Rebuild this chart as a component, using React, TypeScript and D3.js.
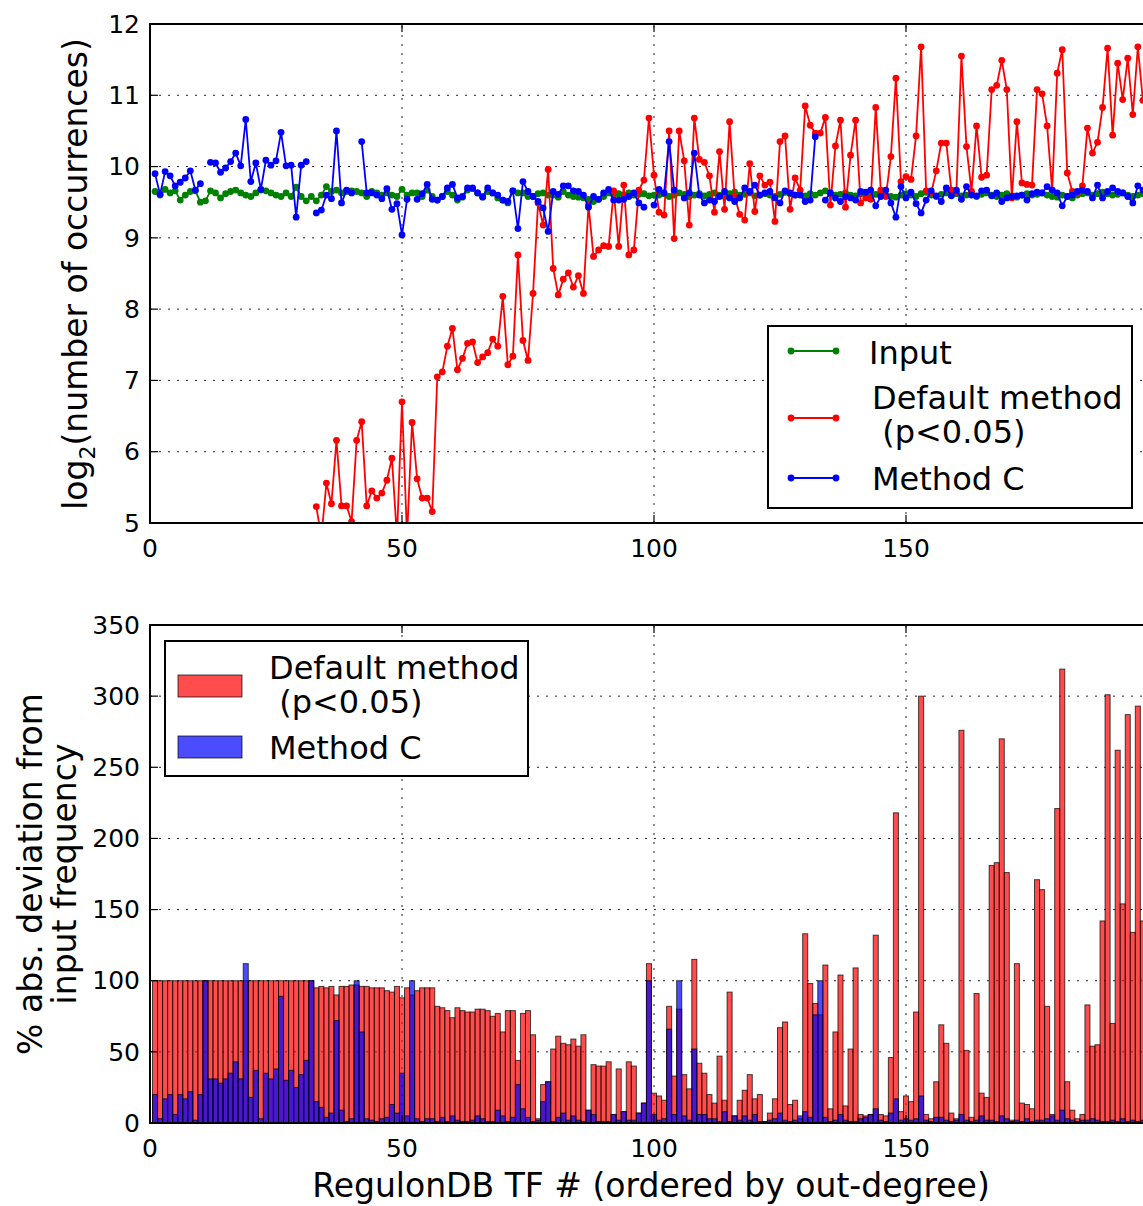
import React from 'react';
import * as d3 from 'd3';

// log2(number of occurrences), TF #1..197 (null = no occurrences, not drawn)
const inputLog2: (number | null)[] = [
  9.65, 9.60, 9.68, 9.63, 9.66, 9.53, 9.60, 9.65, 9.66, 9.50,
  9.52, 9.66, 9.63, 9.56, 9.62, 9.65, 9.67, 9.63, 9.60, 9.58,
  9.63, 9.67, 9.66, 9.63, 9.60, 9.58, 9.63, 9.58, 9.71, 9.58,
  9.52, 9.58, 9.52, 9.60, 9.72, 9.65, 9.67, 9.63, 9.65, 9.66,
  9.65, 9.63, 9.58, 9.65, 9.63, 9.60, 9.63, 9.60, 9.58, 9.68,
  9.60, 9.63, 9.63, 9.58, 9.67, 9.58, 9.53, 9.58, 9.65, 9.60,
  9.53, 9.57, 9.67, 9.69, 9.63, 9.58, 9.65, 9.63, 9.56, 9.53,
  9.49, 9.66, 9.63, 9.63, 9.58, 9.58, 9.62, 9.63, 9.60, 9.60,
  9.57, 9.65, 9.60, 9.58, 9.57, 9.56, 9.54, 9.51, 9.54, 9.58,
  9.63, 9.60, 9.62, 9.60, 9.63, 9.60, 9.61, 9.62, 9.59, 9.60,
  9.60, 9.62, 9.58, 9.60, 9.63, 9.61, 9.58, 9.60, 9.62, 9.59,
  9.61, 9.63, 9.60, 9.58, 9.62, 9.64, 9.60, 9.61, 9.63, 9.59,
  9.60, 9.62, 9.60, 9.58, 9.61, 9.64, 9.62, 9.60, 9.61, 9.59,
  9.62, 9.60, 9.63, 9.66, 9.62, 9.60, 9.61, 9.63, 9.60, 9.59,
  9.62, 9.60, 9.58, 9.61, 9.63, 9.60, 9.58, 9.57, 9.60, 9.62,
  9.60, 9.58, 9.62, 9.64, 9.60, 9.58, 9.61, 9.63, 9.60, 9.62,
  9.59, 9.60, 9.62, 9.58, 9.61, 9.63, 9.60, 9.58, 9.60, 9.62,
  9.59, 9.57, 9.60, 9.62, 9.60, 9.61, 9.63, 9.60, 9.58, 9.57,
  9.60, 9.58, 9.56, 9.60, 9.62, 9.63, 9.60, 9.62, 9.64, 9.62,
  9.60, 9.61, 9.63, 9.60, 9.58, 9.60, 9.62,
];

const defaultLog2: (number | null)[] = [
  null, null, null, null, null, null, null, null, null, null,
  null, null, null, null, null, null, null, null, null, null,
  null, null, null, null, null, null, null, null, null, null,
  null, null, 5.23, 4.80, 5.56, 5.27, 6.16, 5.24, 5.24, 5.02,
  6.16, 6.42, 5.24, 5.45, 5.35, 5.42, 5.60, 5.91, 4.80, 6.70,
  4.80, 6.41, 5.62, 5.35, 5.35, 5.16, 7.05, 7.12, 7.48, 7.73,
  7.15, 7.31, 7.52, 7.54, 7.25, 7.33, 7.39, 7.58, 7.48, 8.18,
  7.22, 7.34, 8.76, 7.56, 7.28, 8.22, 9.49, 9.18, 9.96, 8.57,
  8.20, 8.42, 8.51, 8.31, 8.47, 8.22, 9.46, 8.74, 8.83, 8.89,
  8.88, 9.66, 8.88, 9.74, 8.76, 8.83, 9.67, 9.81, 10.68, 9.88,
  9.36, 9.32, 10.50, 8.99, 10.50, 10.08, 9.18, 10.68, 10.10, 10.06,
  9.87, 9.36, 10.21, 9.40, 10.63, 9.58, 9.33, 9.25, 10.04, 9.37,
  9.87, 9.74, 9.78, 9.23, 10.35, 10.43, 9.40, 9.84, 9.67, 10.85,
  10.58, 10.47, 10.47, 10.69, 9.46, 10.29, 10.65, 9.43, 10.16, 10.65,
  9.49, 9.56, 9.54, 10.83, 9.67, 9.58, 10.14, 11.24, 9.79, 9.86,
  9.82, 10.43, 11.68, 9.66, 9.63, 9.94, 10.33, 10.33, 9.67, 9.65,
  11.55, 10.28, 9.65, 10.57, 9.85, 9.88, 11.08, 11.14, 11.49, 11.08,
  9.56, 10.63, 9.77, 9.75, 9.74, 11.08, 11.02, 10.57, 9.67, 11.31,
  11.64, 9.91, 9.65, 9.63, 9.73, 10.54, 10.19, 10.34, 10.83, 11.66,
  10.44, 11.45, 10.94, 11.52, 10.73, 11.68, 10.93,
];

const methodCLog2: (number | null)[] = [
  9.90, 9.61, 9.93, 9.87, 9.73, 9.78, 9.84, 9.94, 9.67, 9.76,
  null, 10.06, 10.05, 9.92, 9.98, 10.07, 10.19, 10.01, 10.66, 9.79,
  10.05, 9.68, 10.09, 10.02, 10.08, 10.48, 10.01, 10.02, 9.29, 10.02,
  10.07, null, 9.35, 9.39, 9.60, 9.55, 10.50, 9.49, 9.67, 9.63,
  null, 10.35, 9.63, 9.63, 9.60, 9.55, 9.69, 9.40, 9.48, 9.04,
  9.54, null, 9.54, 9.62, 9.75, 9.54, 9.53, 9.58, 9.70, 9.75,
  9.56, 9.58, 9.70, 9.70, 9.63, 9.57, 9.70, 9.63, 9.60, 9.53,
  9.51, 9.66, 9.13, 9.79, 9.65, 9.58, 9.51, 9.42, 9.09, 9.65,
  9.61, 9.73, 9.73, 9.66, 9.65, 9.60, 9.43, 9.58, 9.54, 9.63,
  9.68, 9.53, 9.53, 9.54, 9.58, 9.63, 9.49, 9.43, null, 9.46,
  9.68, 9.63, 10.35, 9.67, null, 9.56, 9.63, 10.19, 9.60, 9.49,
  9.53, 9.51, 9.58, 9.65, 9.56, 9.51, 9.56, 9.70, 9.65, 9.74,
  9.60, 9.63, 9.65, 9.56, 9.49, 9.66, 9.63, 9.60, 9.60, 9.51,
  9.53, 10.42, null, 9.53, 9.63, 9.56, 9.51, 9.58, 9.56, 9.53,
  9.65, 9.64, 9.67, 9.45, 9.58, 9.67, 9.49, 9.29, 9.72, 9.56,
  9.64, 9.48, 9.35, 9.53, 9.66, 9.59, 9.51, 9.70, 9.59, 9.67,
  9.54, 9.72, 9.60, 9.59, 9.66, 9.67, 9.59, 9.63, 9.51, 9.56,
  9.58, 9.59, 9.60, 9.53, 9.62, 9.64, 9.63, 9.72, 9.67, 9.63,
  9.45, 9.58, 9.60, 9.65, 9.67, 9.65, 9.56, 9.74, 9.56, 9.65,
  9.70, 9.65, 9.63, 9.58, 9.49, 9.73, 9.67,
];

// % abs. deviation from input frequency
const defaultDev: number[] = [
  100, 100, 100, 100, 100, 100, 100, 100, 100, 100,
  100, 100, 100, 100, 100, 100, 100, 100, 100, 100,
  100, 100, 100, 100, 100, 100, 100, 100, 100, 100,
  100, 100, 95, 96, 95, 96, 90, 96, 96, 97,
  97, 96, 96, 95, 95, 95, 93, 92, 96, 88,
  95, 90, 93, 95, 95, 95, 82, 81, 79, 74,
  81, 79, 78, 78, 80, 80, 79, 75, 77, 64,
  79, 79, 44, 77, 79, 62, 3, 27, 29, 52,
  61, 56, 55, 59, 54, 62, 9, 41, 40, 40,
  43, 6, 38, 8, 43, 40, 7, 14, 112, 21,
  19, 16, 82, 33, 80, 34, 24, 115, 42, 35,
  20, 14, 47, 16, 92, 5, 16, 23, 34, 17,
  20, 1, 7, 17, 67, 71, 13, 16, 3, 133,
  98, 84, 76, 111, 10, 64, 104, 12, 52, 109,
  6, 5, 6, 132, 6, 5, 46, 218, 8, 19,
  15, 78, 300, 6, 3, 29, 69, 56, 7, 3,
  276, 51, 4, 91, 21, 18, 181, 183, 270, 176,
  2, 112, 14, 13, 10, 171, 164, 82, 6, 221,
  319, 29, 9, 3, 6, 83, 54, 55, 142, 301,
  70, 262, 154, 287, 134, 293, 142,
];

const methodCDev: number[] = [
  20, 3, 17, 20, 6, 20, 17, 22, 2, 20,
  100, 31, 31, 28, 31, 35, 43, 31, 112, 18,
  37, 3, 35, 31, 38, 89, 30, 37, 25, 34,
  44, 100, 15, 11, 4, 7, 72, 9, 1, 3,
  100, 64, 3, 2, 1, 3, 4, 13, 7, 35,
  5, 100, 3, 1, 3, 3, 1, 4, 1, 5,
  2, 1, 1, 2, 5, 3, 1, 1, 9, 5,
  1, 4, 27, 10, 4, 1, 2, 15, 29, 1,
  4, 7, 2, 5, 2, 1, 9, 6, 1, 1,
  1, 6, 2, 8, 2, 2, 7, 14, 100, 6,
  2, 3, 66, 6, 100, 5, 2, 52, 6, 6,
  3, 3, 1, 8, 1, 5, 2, 5, 2, 6,
  1, 1, 2, 3, 7, 2, 1, 2, 5, 8,
  4, 76, 100, 4, 1, 2, 6, 2, 1, 1,
  3, 4, 6, 10, 2, 1, 7, 17, 2, 3,
  2, 3, 19, 2, 1, 4, 4, 2, 1, 2,
  6, 2, 1, 2, 5, 2, 2, 1, 5, 3,
  1, 2, 1, 3, 1, 2, 2, 3, 5, 2,
  9, 3, 2, 1, 2, 2, 3, 2, 1, 1,
  2, 1, 3, 1, 2, 1, 2,
];

const topYTicks = [5, 6, 7, 8, 9, 10, 11, 12];
const botYTicks = [0, 50, 100, 150, 200, 250, 300, 350];
const xTicks = [0, 50, 100, 150, 200];
// the 200 label falls outside the visible figure
const xTickLabels = [0, 50, 100, 150];

const FONT = '"DejaVu Sans", sans-serif';

type Pt = { i: number; v: number | null };

function Series({ data, color, x, y, clip }: { data: (number | null)[]; color: string; x: any; y: any; clip: string }) {
  const pts: Pt[] = data.map((v, k) => ({ i: k + 1, v }));
  const line = d3.line<Pt>().defined(d => d.v != null).x(d => x(d.i)).y(d => y(d.v as number));
  return (
    <g clipPath={`url(#${clip})`}>
      <path d={line(pts) || ''} fill="none" stroke={color} strokeWidth={1.8} />
      {pts.filter(d => d.v != null).map(d => (
        <circle key={d.i} cx={x(d.i)} cy={y(d.v as number)} r={3.4} fill={color} />
      ))}
    </g>
  );
}

export default function App() {
  const W = 1143, H = 1206;
  const x = d3.scaleLinear().domain([0, 200]).range([150, 1158]);
  const yTop = d3.scaleLinear().domain([5, 12]).range([523, 24]);
  const yBot = d3.scaleLinear().domain([0, 350]).range([1123, 625]);
  const bw = x(1) - x(0);

  const grid = (y: any, ticks: number[]) => (
    <g stroke="#000" strokeWidth={1} strokeDasharray="2,7" opacity={0.85}>
      {ticks.map(t => <line key={'h' + t} x1={x(0)} x2={x(200)} y1={y(t)} y2={y(t)} />)}
      {xTicks.map(t => <line key={'v' + t} x1={x(t)} x2={x(t)} y1={y.range()[0]} y2={y.range()[1]} />)}
    </g>
  );

  const frame = (y: any, ticks: number[]) => {
    const [y0, y1] = y.range();
    return (
      <g>
        <rect x={x(0)} y={y1} width={x(200) - x(0)} height={y0 - y1} fill="none" stroke="#000" strokeWidth={2} />
        {ticks.map(t => (
          <g key={t}>
            <line x1={x(0)} x2={x(0) + 8} y1={y(t)} y2={y(t)} stroke="#000" strokeWidth={1.2} />
            <text x={140} y={y(t)} dy="0.35em" textAnchor="end" fontSize={25} fontFamily={FONT}>{t}</text>
          </g>
        ))}
        {xTicks.map(t => (
          <g key={'x' + t}>
            <line x1={x(t)} x2={x(t)} y1={y0} y2={y0 - 8} stroke="#000" strokeWidth={1.2} />
            <line x1={x(t)} x2={x(t)} y1={y1} y2={y1 + 8} stroke="#000" strokeWidth={1.2} />
          </g>
        ))}
        {xTickLabels.map(t => (
          <text key={'l' + t} x={x(t)} y={y0 + 34} textAnchor="middle" fontSize={25} fontFamily={FONT}>{t}</text>
        ))}
      </g>
    );
  };

  const legendLine = (cy: number, color: string) => (
    <g>
      <line x1={791} x2={836} y1={cy} y2={cy} stroke={color} strokeWidth={1.8} />
      <circle cx={791} cy={cy} r={3.4} fill={color} />
      <circle cx={836} cy={cy} r={3.4} fill={color} />
    </g>
  );

  return (
    <svg width={W} height={H} style={{ position: 'absolute', left: 0, top: 0, background: '#fff' }} fontFamily={FONT}>
      <defs>
        <clipPath id="clipTop"><rect x={x(0)} y={24} width={x(200) - x(0)} height={499} /></clipPath>
        <clipPath id="clipBot"><rect x={x(0)} y={625} width={x(200) - x(0)} height={498} /></clipPath>
      </defs>
      <rect width={W} height={H} fill="#fff" />

      {/* top panel */}
      {grid(yTop, topYTicks)}
      <Series data={inputLog2} color="#008000" x={x} y={yTop} clip="clipTop" />
      <Series data={defaultLog2} color="#ff0000" x={x} y={yTop} clip="clipTop" />
      <Series data={methodCLog2} color="#0000ff" x={x} y={yTop} clip="clipTop" />
      {frame(yTop, topYTicks)}
      <text transform="translate(87,274) rotate(-90)" textAnchor="middle" fontSize={33}>
        log<tspan fontSize={22} dy={8}>2</tspan><tspan dy={-8}>(number of occurrences)</tspan>
      </text>
      <g>
        <rect x={768} y={326} width={364} height={182} fill="#fff" stroke="#000" strokeWidth={2} />
        {legendLine(351, '#008000')}
        {legendLine(418, '#ff0000')}
        {legendLine(478, '#0000ff')}
        <text x={869} y={364} fontSize={32}>Input</text>
        <text x={872} y={409} fontSize={32}>Default method</text>
        <text x={872} y={443} fontSize={32} xmlSpace="preserve"> (p&lt;0.05)</text>
        <text x={872} y={490} fontSize={32}>Method C</text>
      </g>

      {/* bottom panel */}
      {grid(yBot, botYTicks)}
      <g clipPath="url(#clipBot)">
        {defaultDev.map((v, k) => (
          <rect key={'r' + k} x={x(k + 1) - bw / 2} width={bw} y={yBot(v)} height={yBot(0) - yBot(v)}
            fill="#ff0000" fillOpacity={0.7} stroke="#000" strokeOpacity={0.7} strokeWidth={1} />
        ))}
        {methodCDev.map((v, k) => (
          <rect key={'b' + k} x={x(k + 1) - bw / 2} width={bw} y={yBot(v)} height={yBot(0) - yBot(v)}
            fill="#0000ff" fillOpacity={0.7} stroke="#000" strokeOpacity={0.7} strokeWidth={1} />
        ))}
      </g>
      {frame(yBot, botYTicks)}
      <text transform="translate(42,874) rotate(-90)" textAnchor="middle" fontSize={33}>% abs. deviation from</text>
      <text transform="translate(76,874) rotate(-90)" textAnchor="middle" fontSize={33}>input frequency</text>
      <text x={651} y={1197} textAnchor="middle" fontSize={33}>RegulonDB TF # (ordered by out-degree)</text>
      <g>
        <rect x={165} y={641} width={363} height={135} fill="#fff" stroke="#000" strokeWidth={2} />
        <rect x={178} y={675} width={64} height={22} fill="#ff0000" fillOpacity={0.7} stroke="#000" strokeOpacity={0.7} />
        <rect x={178} y={736} width={64} height={22} fill="#0000ff" fillOpacity={0.7} stroke="#000" strokeOpacity={0.7} />
        <text x={269} y={679} fontSize={32}>Default method</text>
        <text x={269} y={713} fontSize={32} xmlSpace="preserve"> (p&lt;0.05)</text>
        <text x={269} y={759} fontSize={32}>Method C</text>
      </g>
    </svg>
  );
}
